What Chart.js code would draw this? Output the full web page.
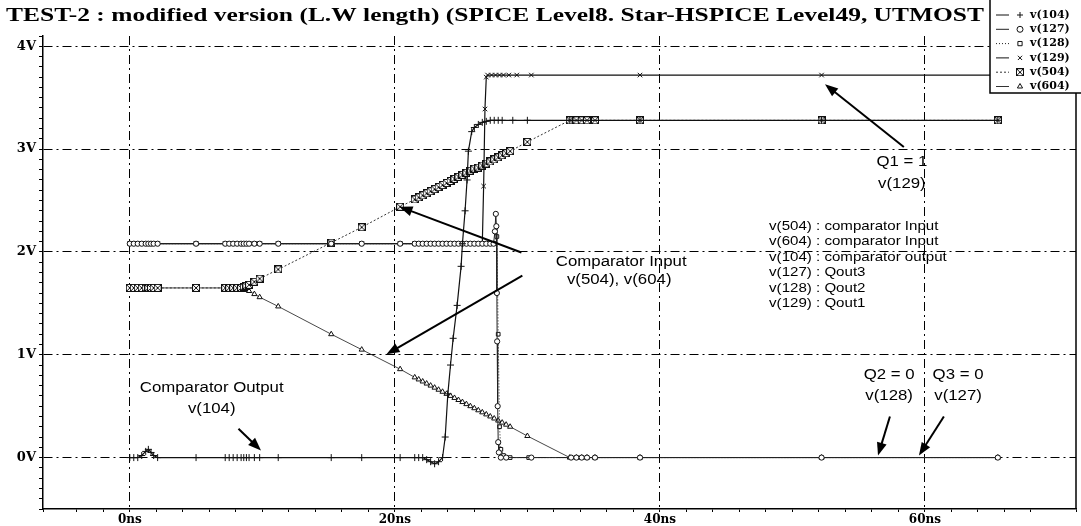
<!DOCTYPE html>
<html><head><meta charset="utf-8">
<script src="https://cdn.jsdelivr.net/npm/chart.js@4/dist/chart.umd.min.js"></script>
<style>html,body{margin:0;padding:0;background:#fff;overflow:hidden}canvas{display:block}</style>
</head><body>
<canvas id="c" width="1081" height="526"></canvas>
<script>
// ---------------- data ----------------
const titleText = 'TEST-2 : modified version (L.W length) (SPICE Level8. Star-HSPICE Level49, UTMOST';
const seriesNames = ['v(104)', 'v(127)', 'v(128)', 'v(129)', 'v(504)', 'v(604)'];
const xTickStep = 20, xUnit = 'ns';
const yTickStep = 1, yUnit = 'V';

// shared simulation time steps before the switching event (ns)
const tEarly = [0,0.3,0.6,0.9,1.2,1.4,1.6,1.8,2.1,5.0,7.2,7.5,7.8,8.1,8.4,8.6,8.8,9.0,9.4,9.8,11.2,15.2,17.5,20.4,
  21.5,21.8,22.1,22.4,22.7,23.0,23.3,23.6,23.9,24.2,24.5,24.8,25.1,25.4,25.7,26.0,26.3,26.6];
const vEarlyQ = [2.08,2.08,2.08,2.08,2.08,2.08,2.08,2.08,2.08,2.08,2.08,2.08,2.08,2.08,2.08,2.08,2.08,2.08,2.08,2.08,2.08,2.08,2.08,2.08,
  2.08,2.08,2.08,2.08,2.08,2.08,2.08,2.08,2.08,2.08,2.08,2.08,2.08,2.08,2.08,2.08,2.08,2.08];

// v(104) comparator output
const t104 = [0,0.3,0.6,0.9,1.2,1.4,1.6,1.8,2.1,5.0,7.2,7.5,7.8,8.1,8.4,8.6,8.8,9.0,9.4,9.8,11.2,15.2,17.5,20.4,
  21.5,21.8,22.1,22.4,22.7,23.0,23.3,23.6,23.8,24.0,24.2,24.4,24.7,25.0,25.1,25.3,25.45,25.55,25.8,26.0,26.3,26.6,26.9,
  27.2,27.5,27.8,28.1,28.9,30.0,33.2,38.5,52.2,65.5];
const v104 = [0,0,0,0.02,0.06,0.08,0.05,0.02,0,0,0,0,0,0,0,0,0,0,0,0,0,0,0,0,
  0,0,0,-0.02,-0.04,-0.06,-0.04,0,0.2,0.62,0.9,1.16,1.48,1.86,2.08,2.4,2.7,2.98,3.17,3.21,3.24,3.26,3.27,
  3.28,3.28,3.28,3.28,3.28,3.28,3.28,3.28,3.28,3.28];

// v(127) Qout3
const t127 = [...tEarly, 26.9,27.2,27.45,27.55,27.62,27.66,27.7,27.72,27.76,27.8,27.85,28.0,28.4,30.3,33.3,33.7,34.1,34.5,35.1,38.5,52.2,65.5];
const v127 = [...vEarlyQ, 2.08,2.08,2.08,2.2,2.37,2.25,1.6,1.13,0.5,0.15,0.05,0,0,0,0,0,0,0,0,0,0,0];

// v(128) Qout2
const t128 = [...tEarly, 26.9,27.2,27.5,27.7,27.8,27.9,28.0,28.2,28.7,30.1,33.3,33.7,34.1,34.5,35.1,38.5,52.2,65.5];
const v128 = [...vEarlyQ, 2.08,2.08,2.08,2.15,1.2,0.3,0.08,0.02,0,0,0,0,0,0,0,0,0,0];

// v(129) Qout1
const t129 = [...tEarly, 26.7,26.8,26.9,27.0,27.3,27.6,27.9,28.2,28.6,29.2,30.3,38.5,52.2,65.5];
const v129 = [...vEarlyQ, 2.64,3.39,3.70,3.72,3.72,3.72,3.72,3.72,3.72,3.72,3.72,3.72,3.72,3.72];

// v(504) / v(604) comparator inputs
const tIn = [0,0.3,0.6,0.9,1.2,1.4,1.6,1.8,2.1,5.0,7.2,7.5,7.8,8.1,8.4,8.6,8.8,9.0,9.4,9.8,11.2,15.2,17.5,20.4,
  21.5,21.8,22.1,22.4,22.7,23.0,23.3,23.6,23.9,24.2,24.5,24.8,25.1,25.4,25.7,26.0,26.3,26.6,
  26.9,27.2,27.5,27.8,28.1,28.4,28.7,30.0,33.2,33.7,34.1,34.5,35.1,38.5,52.2,65.5];
const v504 = [1.65,1.65,1.65,1.65,1.65,1.65,1.65,1.65,1.65,1.65,1.65,1.65,1.65,1.65,1.65,1.66,1.67,1.68,1.71,1.74,1.83,2.09,2.24,2.44,
  2.51,2.53,2.55,2.57,2.59,2.61,2.63,2.65,2.67,2.69,2.71,2.73,2.75,2.77,2.79,2.81,2.82,2.84,
  2.86,2.88,2.90,2.92,2.94,2.96,2.98,3.07,3.28,3.28,3.28,3.28,3.28,3.28,3.28,3.28];
const v604 = [1.65,1.65,1.65,1.65,1.65,1.65,1.65,1.65,1.65,1.65,1.65,1.65,1.65,1.65,1.65,1.64,1.63,1.62,1.59,1.56,1.47,1.20,1.05,0.86,
  0.78,0.76,0.74,0.72,0.70,0.68,0.66,0.64,0.62,0.60,0.58,0.56,0.54,0.52,0.50,0.48,0.46,0.44,
  0.42,0.40,0.38,0.36,0.34,0.32,0.30,0.21,0.0,0,0,0,0,0,0,0];

// annotation texts (ns, V anchors)
const noteTexts = ['Q1 = 1', 'v(129)', 'Comparator Input', 'v(504), v(604)', 'Comparator Output', 'v(104)',
  'Q2 = 0', 'v(128)', 'Q3 = 0', 'v(127)'];
const noteX = [58.26, 58.26, 37.08, 36.93, 6.18, 6.18, 57.3, 57.3, 62.5, 62.5];
const noteY = [2.87, 2.66, 1.90, 1.73, 0.68, 0.47, 0.80, 0.60, 0.80, 0.60];
const listTexts = ['v(504) : comparator Input', 'v(604) : comparator Input', 'v(104) : comparator output',
  'v(127) : Qout3', 'v(128) : Qout2', 'v(129) : Qout1'];
const listX = 48.24;
const listY = [2.25, 2.10, 1.95, 1.80, 1.65, 1.50];
// arrows: tail (x1,y1) -> head (x2,y2)
const arrowX1 = [58.41, 29.55, 29.62, 8.2, 57.36, 61.43];
const arrowY1 = [3.02, 1.995, 1.77, 0.28, 0.40, 0.40];
const arrowX2 = [52.46, 20.35, 19.37, 9.9, 56.46, 59.55];
const arrowY2 = [3.63, 2.44, 1.005, 0.07, 0.02, 0.02];

// ---------------- styling ----------------
const boxX = (() => {
  const c = document.createElement('canvas'); c.width = 8; c.height = 8;
  const g = c.getContext('2d');
  g.fillStyle = '#fff'; g.fillRect(0, 0, 8, 8);
  g.strokeStyle = '#111'; g.lineWidth = 1;
  g.strokeRect(0.5, 0.5, 7, 7);
  g.beginPath(); g.moveTo(1, 1); g.lineTo(7, 7); g.moveTo(7, 1); g.lineTo(1, 7); g.stroke();
  return c;
})();
const seriesT = [t104, t127, t128, t129, tIn, tIn];
const seriesV = [v104, v127, v128, v129, v504, v604];
const styles = [
  { ps: 'cross', dash: [], w: 1.2, col: '#111', r: 3.5 },
  { ps: 'circle', dash: [], w: 1, col: '#222', r: 2.6 },
  { ps: 'rect', dash: [1, 2], w: 1, col: '#222', r: 2.6 },
  { ps: 'crossRot', dash: [], w: 1.2, col: '#111', r: 3.2 },
  { ps: boxX, dash: [2, 2], w: 1, col: '#333', r: 3.5 },
  { ps: 'triangle', dash: [], w: 0.9, col: '#333', r: 3 }
];
const isMult = (v, s) => Math.abs(v / s - Math.round(v / s)) < 1e-6;

function sText(ctx, txt, x, y, font, sx, align) {
  ctx.save(); ctx.font = font; ctx.fillStyle = '#000'; ctx.textBaseline = 'middle';
  ctx.textAlign = align || 'center';
  ctx.translate(x, y); ctx.scale(sx, 1); ctx.fillText(txt, 0, 0); ctx.restore();
}
function arrow(ctx, x1, y1, x2, y2) {
  const a = Math.atan2(y2 - y1, x2 - x1), L = 13, W = 5;
  const c = Math.cos(a), s = Math.sin(a);
  ctx.save(); ctx.strokeStyle = '#000'; ctx.fillStyle = '#000'; ctx.lineWidth = 2;
  ctx.beginPath(); ctx.moveTo(x1, y1); ctx.lineTo(x2 - L * 0.8 * c, y2 - L * 0.8 * s); ctx.stroke();
  ctx.beginPath(); ctx.moveTo(x2, y2);
  ctx.lineTo(x2 - L * c + W * s, y2 - L * s - W * c);
  ctx.lineTo(x2 - L * c - W * s, y2 - L * s + W * c);
  ctx.closePath(); ctx.fill(); ctx.restore();
}

const decor = {
  id: 'decor',
  afterDraw(chart) {
    const ctx = chart.ctx, xs = chart.scales.x, ys = chart.scales.y, ca = chart.chartArea;
    // right frame
    ctx.save(); ctx.strokeStyle = '#000'; ctx.lineWidth = 1.5;
    ctx.beginPath(); ctx.moveTo(ca.right, ca.top); ctx.lineTo(ca.right, ca.bottom); ctx.stroke(); ctx.restore();
    // notes
    noteTexts.forEach((t, i) => sText(ctx, t, xs.getPixelForValue(noteX[i]), ys.getPixelForValue(noteY[i]),
      '14px "Liberation Sans"', 1.2, 'center'));
    listTexts.forEach((t, i) => sText(ctx, t, xs.getPixelForValue(listX), ys.getPixelForValue(listY[i]),
      '13px "Liberation Sans"', 1.16, 'left'));
    arrowX1.forEach((_, i) => arrow(ctx, xs.getPixelForValue(arrowX1[i]), ys.getPixelForValue(arrowY1[i]),
      xs.getPixelForValue(arrowX2[i]), ys.getPixelForValue(arrowY2[i])));
    // title
    ctx.save(); ctx.font = 'bold 18px "Liberation Serif"';
    const w = ctx.measureText(titleText).width; ctx.restore();
    sText(ctx, titleText, 6, 16, 'bold 18px "Liberation Serif"', 978 / w, 'left');
    // legend box
    const lx = 990, ly = -1, lw = 92, lh = 94;
    ctx.save(); ctx.fillStyle = '#fff'; ctx.fillRect(lx, ly, lw, lh);
    ctx.strokeStyle = '#000'; ctx.lineWidth = 1.5; ctx.strokeRect(lx, ly, lw, lh); ctx.restore();
    chart.data.datasets.forEach((ds, i) => {
      const y = 15 + i * 14.3;
      ctx.save(); ctx.strokeStyle = ds.borderColor; ctx.lineWidth = 1; ctx.setLineDash(ds.borderDash);
      ctx.beginPath(); ctx.moveTo(996, y); ctx.lineTo(1009, y); ctx.stroke(); ctx.restore();
      ctx.save(); ctx.strokeStyle = '#111'; ctx.fillStyle = '#fff'; ctx.lineWidth = 1;
      Chart.helpers.drawPoint(ctx, { pointStyle: ds.pointStyle, radius: 3, borderWidth: 1, rotation: 0 }, 1020, y);
      ctx.restore();
      sText(ctx, ds.label, 1030, y, 'bold 11px "DejaVu Serif"', 1.0, 'left');
    });
  }
};

new Chart(document.getElementById('c'), {
  type: 'line',
  data: {
    datasets: seriesNames.map((n, i) => ({
      label: n,
      data: seriesT[i].map((t, k) => ({ x: t, y: seriesV[i][k] })),
      borderColor: styles[i].col, borderWidth: styles[i].w, borderDash: styles[i].dash,
      pointStyle: styles[i].ps, pointRadius: styles[i].r, pointBorderColor: '#111',
      pointBackgroundColor: '#fff', pointBorderWidth: 1, tension: 0, fill: false
    }))
  },
  options: {
    responsive: false, animation: false, events: [],
    layout: { padding: { top: 36, right: 4, left: 0, bottom: 0 } },
    plugins: { legend: { display: false }, title: { display: false }, tooltip: { enabled: false } },
    scales: {
      x: {
        type: 'linear', min: -6.55, max: 71.4,
        afterFit(s) { s.height = 17; },
        ticks: {
          stepSize: 2, autoSkip: false, maxRotation: 0, padding: 1, color: '#000',
          font: { family: 'DejaVu Serif', weight: 'bold', size: 12 },
          callback: (v) => isMult(v, xTickStep) ? Math.round(v) + xUnit : ''
        },
        grid: {
          color: (c) => (c.tick && isMult(c.tick.value, xTickStep)) ? '#000' : 'rgba(0,0,0,0)',
          lineWidth: 1, tickColor: '#000', tickLength: 3
        },
        border: { color: '#000', width: 1.5, dash: [9, 4, 2, 4] }
      },
      y: {
        type: 'linear', min: -0.5, max: 4.1,
        afterFit(s) { s.width = 43; },
        ticks: {
          stepSize: 0.1, autoSkip: false, padding: 3, color: '#000',
          font: { family: 'DejaVu Serif', weight: 'bold', size: 13 },
          callback: (v) => (isMult(v, yTickStep) && v > -0.01) ? Math.round(v) + yUnit : ''
        },
        grid: {
          color: (c) => (c.tick && isMult(c.tick.value, yTickStep) && c.tick.value > -0.01) ? '#000' : 'rgba(0,0,0,0)',
          lineWidth: 1, tickColor: '#000', tickLength: 4
        },
        border: { color: '#000', width: 1.5, dash: [9, 4, 2, 4] }
      }
    }
  },
  plugins: [decor]
});
</script>
</body></html>
